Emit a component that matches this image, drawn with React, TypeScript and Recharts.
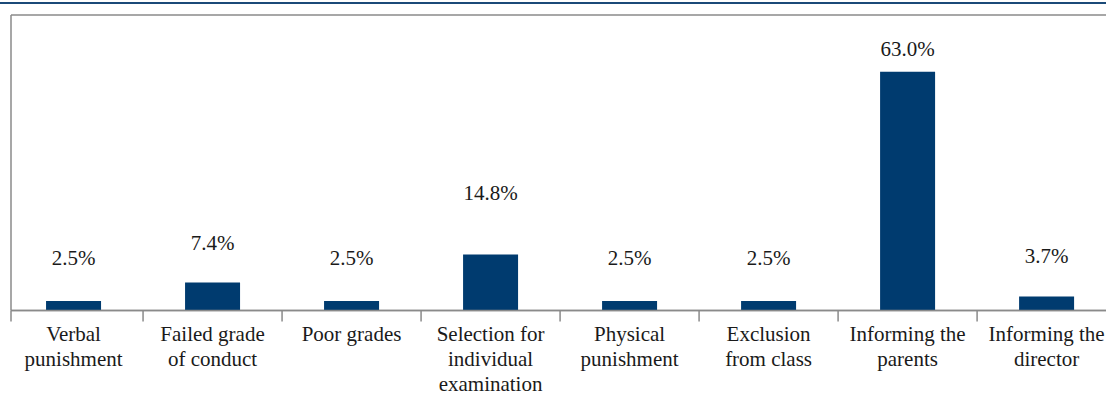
import React from "react";
import { BarChart, Bar, XAxis, YAxis, CartesianGrid, LabelList } from "recharts";

const categories = [
  "Verbal\npunishment",
  "Failed grade\nof conduct",
  "Poor grades",
  "Selection for\nindividual\nexamination",
  "Physical\npunishment",
  "Exclusion\nfrom class",
  "Informing the\nparents",
  "Informing the\ndirector",
];
const values = [2.5, 7.4, 2.5, 14.8, 2.5, 2.5, 63.0, 3.7];
const yTicks = [0, 26, 52, 78];
// vertical lift of each value label above its bar (style)
const labelLift = [36, 32, 36, 54, 36, 36, 16, 33];

const data = categories.map((name, i) => ({ pos: i, name, value: values[i] }));

const X_START = -0.45;
const X_END = 7.6;
const xTicks: number[] = [X_START];
categories.forEach((_, i) => {
  xTicks.push(i);
  if (i < categories.length - 1) xTicks.push(i + 0.5);
});

const FONT = "Liberation Serif";
const GRID = "#8a8a8a";
const BAR = "#003b6f";

function XTick(props: any) {
  const { x, y, payload } = props;
  const v = payload.value;
  if (Number.isInteger(v)) {
    const lines = categories[v].split("\n");
    return (
      <text x={x} y={y + 30} textAnchor="middle" fontFamily={FONT} fontSize={21} fill="#1a1a1a">
        {lines.map((l, i) => (
          <tspan key={i} x={x} dy={i === 0 ? 0 : 25.3}>
            {l}
          </tspan>
        ))}
      </text>
    );
  }
  return <line x1={x} x2={x} y1={y} y2={y + 11} stroke={GRID} strokeWidth={1.5} />;
}

function ValueLabel(props: any) {
  const { x, y, width, value, index } = props;
  return (
    <text
      x={x + width / 2}
      y={y - labelLift[index]}
      textAnchor="middle"
      fontFamily={FONT}
      fontSize={21}
      fill="#1a1a1a"
    >
      {Number(value).toFixed(1) + "%"}
    </text>
  );
}

export default function App() {
  return (
    <div
      style={{
        position: "absolute",
        left: 0,
        top: 0,
        width: 1106,
        height: 405,
        overflow: "hidden",
        background: "#fff",
        fontFamily: FONT,
      }}
    >
      <div
        style={{
          position: "absolute",
          left: 0,
          top: 2,
          width: 1106,
          height: 1.5,
          background: "#1b4a78",
        }}
      />
      <div style={{ position: "absolute", left: 0, top: 0 }}>
        <BarChart
          width={1130}
          height={405}
          data={data}
          margin={{ top: 15, right: 0, bottom: 0, left: 10 }}
        >
          <CartesianGrid vertical={false} stroke={GRID} strokeWidth={1.5} />
          <XAxis
            dataKey="pos"
            type="number"
            domain={[X_START, X_END]}
            ticks={xTicks}
            interval={0}
            height={94.5}
            tickSize={0}
            tickMargin={0}
            tickLine={false}
            axisLine={{ stroke: GRID, strokeWidth: 1.5 }}
            tick={<XTick />}
            allowDataOverflow
          />
          <YAxis
            domain={[0, 78]}
            ticks={yTicks}
            width={1}
            tick={false}
            tickLine={false}
            axisLine={{ stroke: GRID, strokeWidth: 1.5 }}
            allowDataOverflow
          />
          <Bar dataKey="value" fill={BAR} barSize={55} isAnimationActive={false}>
            <LabelList dataKey="value" content={<ValueLabel />} />
          </Bar>
        </BarChart>
      </div>
    </div>
  );
}
